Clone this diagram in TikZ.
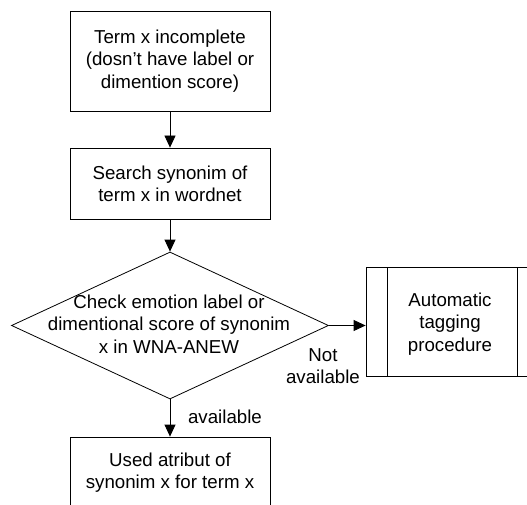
\documentclass[tikz,border=0pt]{standalone}
\usepackage{fontspec}
\setmainfont{Liberation Sans}
\usetikzlibrary{shapes.geometric,arrows.meta}
\begin{document}
\begin{tikzpicture}[x=1pt,y=-1pt,
  every node/.style={font=\fontsize{18.7}{22.3}\selectfont, align=center, inner sep=0pt},
  procbox/.style={draw, line width=0.8pt, rectangle, minimum width=200pt},
  decbox/.style={draw, line width=0.8pt, diamond, minimum width=317pt, minimum height=147pt},
  conn/.style={draw, line width=0.8pt, -{Triangle[length=12pt,width=11pt]}}
]
\useasboundingbox (0,0) rectangle (527,505);
\clip (0,0) rectangle (527,505);
\node[procbox, minimum height=100pt] (b1) at (170,61) {Term x incomplete\\(dosn’t have label or\\dimention score)};
\node[procbox, minimum height=71pt] (b2) at (170,183.5) {Search synonim of\\term x in wordnet};
\node[decbox] (d) at (170,325.5) {};
\node (dt) at (169,324) {Check emotion label or\\dimentional score of synonim\\x in WNA-ANEW};
\node[draw, line width=0.8pt, minimum width=172pt, minimum height=109pt] (b3) at (452,321.5) {};
\node (b3t) at (450,324) {Automatic\\tagging\\procedure};
\draw[line width=0.8pt] (387,267) -- (387,376);
\draw[line width=0.8pt] (517,267) -- (517,376);
\node[procbox, minimum height=71pt] (b4) at (170,472.5) {Used atribut of\\synonim x for term x};
\node (na) at (323,366) {Not\\available};
\node (av) at (225,417) {available};
\draw[conn] (b1) -- (b2);
\draw[conn] (b2) -- (d.north);
\draw[conn] (d.east) -- (d.east -| b3.west);
\draw[conn] (d.south) -- (b4.north);
\end{tikzpicture}
\end{document}
